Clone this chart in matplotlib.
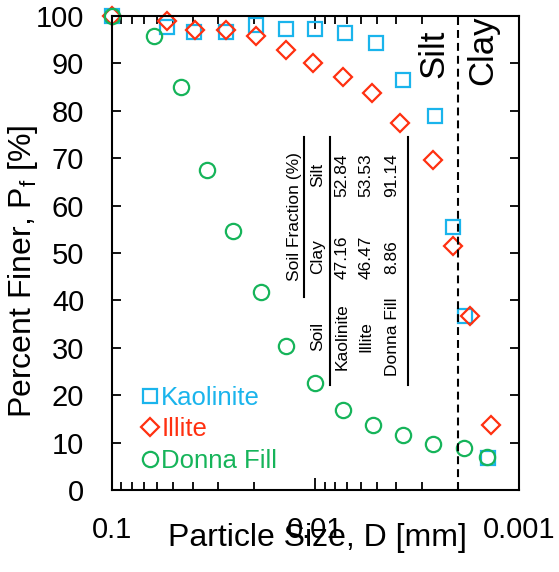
import matplotlib
matplotlib.use("Agg")
import matplotlib.pyplot as plt
from matplotlib.lines import Line2D

plt.rcParams['font.family'] = ['Liberation Sans', 'DejaVu Sans']
plt.rcParams['mathtext.fontset'] = 'custom'
plt.rcParams['mathtext.rm'] = 'Liberation Sans'
plt.rcParams['mathtext.it'] = 'Liberation Sans'

# ---- data ----
D_kaolinite = [0.1, 0.0538, 0.0394, 0.0276, 0.0195, 0.0139, 0.0100, 0.00716,
               0.00506, 0.00373, 0.00259, 0.00212, 0.00184, 0.00142]
P_kaolinite = [100, 97.6, 96.6, 96.6, 98.0, 97.2, 97.2, 96.5, 94.4, 86.5, 79.0,
               55.4, 36.8, 6.7]

D_illite = [0.1, 0.0538, 0.0389, 0.0276, 0.0195, 0.0140, 0.0103, 0.00735,
            0.00526, 0.00385, 0.00264, 0.00212, 0.00175, 0.00138]
P_illite = [100, 99.0, 97.0, 97.0, 95.8, 92.8, 90.0, 87.2, 83.8, 77.4, 69.6,
            51.5, 36.6, 13.7]

D_donna = [0.1, 0.0620, 0.0458, 0.0343, 0.0253, 0.0186, 0.0140, 0.0101,
           0.0073, 0.0052, 0.00373, 0.00264, 0.00186, 0.00143]
P_donna = [100, 95.8, 85.1, 67.6, 54.7, 41.8, 30.4, 22.6, 16.9, 13.7, 11.5,
           9.7, 8.8, 6.9]

clay_silt_boundary = 0.002

table_soils = ['Kaolinite', 'Illite', 'Donna Fill']
table_clay = ['47.16', '46.47', '8.86']
table_silt = ['52.84', '53.53', '91.14']

x_ticks = [0.1, 0.01, 0.001]
x_ticklabels = ['0.1', '0.01', '0.001']
y_ticks = list(range(0, 101, 10))

c_kao = '#1AB4EC'
c_ill = '#FF3010'
c_don = '#16B45A'

# ---- figure ----
fig = plt.figure(figsize=(5.59, 5.72), dpi=100)
ax = fig.add_axes([0.2004, 0.1434, 0.7280, 0.8287])

ax.plot(D_kaolinite, P_kaolinite, linestyle='none', marker='s', ms=10.5,
        mfc='none', mec=c_kao, mew=1.6, clip_on=False, label='Kaolinite')
ax.plot(D_illite, P_illite, linestyle='none', marker='D', ms=9, mfc='none',
        mec=c_ill, mew=1.6, clip_on=False, label='Illite')
ax.plot(D_donna, P_donna, linestyle='none', marker='o', ms=11, mfc='none',
        mec=c_don, mew=1.6, clip_on=False, label='Donna Fill')

ax.axvline(clay_silt_boundary, color='black', lw=1.5, linestyle=(0, (3.8, 2.4)))

ax.set_xscale('log')
ax.set_xlim(0.1, 0.001)
ax.set_ylim(0, 100)
ax.set_xticks(x_ticks)
ax.set_xticklabels(x_ticklabels)
ax.set_yticks(y_ticks)

for s in ax.spines.values():
    s.set_linewidth(1.5)

ax.tick_params(axis='both', which='both', direction='in', top=True, right=True,
               width=1.3, labelsize=21)
ax.tick_params(axis='x', which='major', length=9, pad=19)
ax.tick_params(axis='x', which='minor', length=6)
ax.tick_params(axis='y', which='major', length=6.5, pad=20)

ax.set_xlabel('Particle Size, D [mm]', fontsize=23)
ax.xaxis.set_label_coords(0.505, -0.07)
ax.set_ylabel(r'Percent Finer, P$_\mathregular{f}$ [%]', fontsize=23)
ax.yaxis.set_label_coords(-0.177, 0.462)

# Silt / Clay labels
ax.text(0.79, 0.92, 'Silt', rotation=90, fontsize=25, ha='center', va='center',
        transform=ax.transAxes)
ax.text(0.912, 0.928, 'Clay', rotation=90, fontsize=25, ha='center', va='center',
        transform=ax.transAxes)

# legend
leg = ax.legend(loc='lower left', bbox_to_anchor=(0.05, 0.014), frameon=False,
                fontsize=18.5, handlelength=0.6, handletextpad=0.12,
                labelspacing=0.3, borderaxespad=0,
                labelcolor=[c_kao, c_ill, c_don])

# rotated table
tfs = 12.5
tr = ax.transAxes
x_head1, x_head2 = 0.449, 0.506
x_rows = [0.565, 0.624, 0.688]
y_soil, y_clay, y_silt = 0.323, 0.4916, 0.6646
ax.text(x_head1, 0.576, 'Soil Fraction (%)', rotation=90, fontsize=tfs,
        ha='center', va='center', transform=tr)
ax.text(x_head2, y_soil, 'Soil', rotation=90, fontsize=tfs, ha='center', va='center', transform=tr)
ax.text(x_head2, y_clay, 'Clay', rotation=90, fontsize=tfs, ha='center', va='center', transform=tr)
ax.text(x_head2, y_silt, 'Silt', rotation=90, fontsize=tfs, ha='center', va='center', transform=tr)
for xr, s, c, si in zip(x_rows, table_soils, table_clay, table_silt):
    ax.text(xr, y_soil, s, rotation=90, fontsize=tfs, ha='center', va='center', transform=tr)
    ax.text(xr, y_clay, c, rotation=90, fontsize=tfs, ha='center', va='center', transform=tr)
    ax.text(xr, y_silt, si, rotation=90, fontsize=tfs, ha='center', va='center', transform=tr)

for xl, y0, y1 in [(0.4717, 0.4072, 0.7447), (0.5356, 0.2215, 0.7447),
                   (0.7273, 0.2215, 0.7447)]:
    ax.add_line(Line2D([xl, xl], [y0, y1], color='black', lw=1.5, transform=tr))

fig.savefig('out.png', dpi=100)
